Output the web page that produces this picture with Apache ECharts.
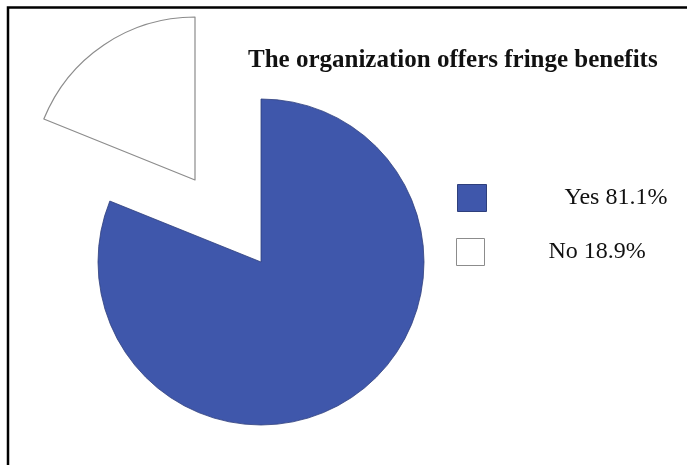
<!DOCTYPE html>
<html>
<head>
<meta charset="utf-8">
<title>The organization offers fringe benefits</title>
<script src="https://cdn.jsdelivr.net/npm/echarts@6/dist/echarts.min.js"></script>
<style>
  html, body { margin: 0; padding: 0; background: #fff; }
  #chart { width: 687px; height: 465px; }
</style>
</head>
<body>
<div id="chart"></div>
<script>
// Survey answers and their shares (percent)
var categories = ['Yes', 'No'];
var shares = [81.1, 18.9];
var titleText = 'The organization offers fringe benefits';

var sliceColors = { Yes: '#3f57ab', No: '#ffffff' };
var sliceBorders = { Yes: '#2e3f7c', No: '#8c8c8c' };

// Builds pie data where only the named slice is painted; the other keeps its angle but stays invisible
function pieData(visibleName) {
  return categories.map(function (name, i) {
    var shown = name === visibleName;
    return {
      name: name,
      value: shares[i],
      itemStyle: shown
        ? { color: sliceColors[name], borderColor: sliceBorders[name], borderWidth: name === 'No' ? 1.2 : 0.8 }
        : { color: 'transparent', borderWidth: 0 }
    };
  });
}

function legendFor(name, left, top, iconW, iconH, textPad) {
  var idx = categories.indexOf(name);
  return {
    data: [{
      name: name,
      itemStyle: { color: sliceColors[name], borderColor: sliceBorders[name], borderWidth: 1 }
    }],
    left: left,
    top: top,
    icon: 'rect',
    itemWidth: iconW,
    itemHeight: iconH,
    selectedMode: false,
    formatter: function () { return name + ' ' + shares[idx].toFixed(1) + '%'; },
    textStyle: {
      fontFamily: '"Liberation Serif", "DejaVu Serif", serif',
      fontSize: 24,
      color: '#111',
      padding: [3, 0, 0, textPad]
    }
  };
}

var chart = echarts.init(document.getElementById('chart'), null, { renderer: 'canvas' });

chart.setOption({
  backgroundColor: '#ffffff',
  animation: false,
  title: {
    text: titleText,
    left: 243,
    top: 43,
    textStyle: {
      fontFamily: '"Liberation Serif", "DejaVu Serif", serif',
      fontWeight: 'bold',
      fontSize: 25,
      color: '#111'
    }
  },
  legend: [
    legendFor('Yes', 452, 179, 29, 27, 73),
    legendFor('No', 451, 233, 28, 27, 59)
  ],
  graphic: [{
    type: 'rect',
    shape: { x: 8, y: 7.5, width: 720, height: 520 },
    style: { fill: 'none', stroke: '#000', lineWidth: 2.5 },
    silent: true,
    z: 100
  }],
  series: [
    {
      type: 'pie',
      center: [261, 262],
      radius: 163,
      startAngle: 90,
      clockwise: true,
      silent: true,
      label: { show: false },
      labelLine: { show: false },
      data: pieData('Yes')
    },
    {
      // the "No" slice, pulled out toward the upper left
      type: 'pie',
      center: [195, 180],
      radius: 163,
      startAngle: 90,
      clockwise: true,
      silent: true,
      label: { show: false },
      labelLine: { show: false },
      data: pieData('No')
    }
  ]
});
</script>
</body>
</html>
